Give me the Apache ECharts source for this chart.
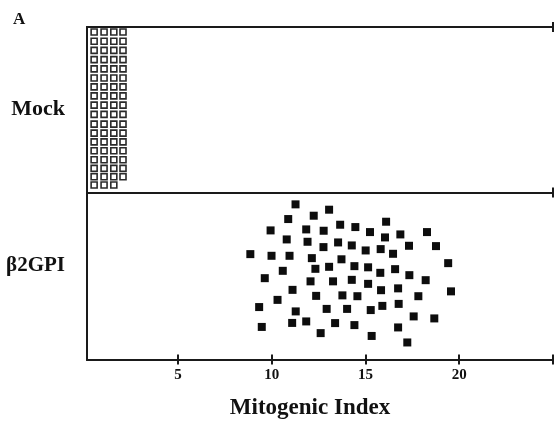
<!DOCTYPE html>
<html>
<head>
<meta charset="utf-8">
<script src="https://cdn.jsdelivr.net/npm/echarts@6/dist/echarts.min.js"></script>
<style>
html,body{margin:0;padding:0;background:#fff;}
#chart{width:554px;height:421px;}
</style>
</head>
<body>
<div id="chart"></div>
<script>
// ---- Data ----
var panelLabels = ['Mock', '\u03b22GPI'];
var xTicks = [5, 10, 15, 20, 25];
var xTickLabels = [5, 10, 15, 20];
var xName = 'Mitogenic Index';
var panelTitle = 'A';

// Mock: stacked columns of hollow squares
var mockColumnX = [0.53, 1.06, 1.58, 2.07];
var mockRowY = [0.45, 0.95, 1.46, 1.98, 2.52, 3.06, 3.59, 4.13, 4.72, 5.28, 5.84, 6.38, 6.92, 7.47, 8.03, 8.59, 9.14, 9.70];
var mockRowsPerColumn = [18, 18, 18, 17]; // last column lacks the bottom row

// beta2GPI: scattered filled squares
var b2X = [11.27,10.88,12.24,13.06,9.94,11.84,12.77,13.65,14.46,16.10,15.24,16.86,18.28,10.80,11.91,12.76,13.54,14.27,16.04,17.32,18.76,8.86,9.99,10.95,12.14,13.72,15.01,15.81,16.47,19.41,10.59,12.33,13.06,14.41,15.14,15.79,16.58,17.34,9.63,12.07,13.27,14.27,15.14,18.21,11.11,15.83,16.74,19.56,10.31,12.37,13.77,14.57,17.82,9.33,11.28,12.93,14.02,15.28,15.90,16.77,17.57,18.67,9.47,11.09,11.84,13.38,14.41,16.74,12.61,15.33,17.23];
var b2Y = [9.29,8.41,8.61,8.97,7.73,7.79,7.71,8.07,7.93,8.25,7.63,7.49,7.63,7.19,7.05,6.73,7.01,6.83,7.31,6.81,6.79,6.31,6.21,6.21,6.07,6.00,6.53,6.61,6.33,5.77,5.31,5.43,5.55,5.59,5.52,5.19,5.41,5.05,4.87,4.68,4.68,4.77,4.53,4.75,4.17,4.15,4.26,4.08,3.57,3.81,3.84,3.79,3.79,3.14,2.88,3.03,3.03,2.96,3.21,3.33,2.58,2.46,1.95,2.19,2.28,2.18,2.06,1.92,1.58,1.41,1.02];

// ---- Build ----
var mockData = [];
mockColumnX.forEach(function (x, ci) {
  var n = mockRowsPerColumn[ci];
  for (var r = mockRowY.length - n; r < mockRowY.length; r++) {
    mockData.push([x, mockRowY[r]]);
  }
});
var b2Data = b2X.map(function (x, i) { return [x, b2Y[i]]; });

var FONT = "'Liberation Serif', 'Times New Roman', serif";
var LINE = { show: true, onZero: false, lineStyle: { color: '#1a1a1a', width: 2 } };
var XMIN = 0.15, XMAX = 25;

function xAx(grid, pos, ticks, inside, extra) {
  var a = {
    type: 'value', gridIndex: grid, position: pos, min: XMIN, max: XMAX,
    axisLine: LINE,
    axisTick: { show: true, inside: inside, length: 5, customValues: ticks, lineStyle: { color: '#1a1a1a', width: 2 } },
    axisLabel: { show: false },
    splitLine: { show: false }
  };
  for (var k in extra) a[k] = extra[k];
  return a;
}

var chart = echarts.init(document.getElementById('chart'), null, { renderer: 'canvas' });
chart.setOption({
  animation: false,
  backgroundColor: '#fff',
  title: {
    text: panelTitle, left: 8, top: 6,
    textStyle: { fontFamily: FONT, fontSize: 17, fontWeight: 'bold', color: '#111' }
  },
  grid: [
    { left: 87, right: 1, top: 27, height: 165.5 },
    { left: 87, right: 1, top: 192.5, height: 167 }
  ],
  xAxis: [
    xAx(0, 'top', [25], false, {}),
    xAx(0, 'top', [25], true, {}),
    xAx(1, 'top', [25], false, {}),
    xAx(1, 'top', [25], true, {}),
    xAx(1, 'bottom', xTicks, false, {
      axisLabel: { show: true, customValues: xTickLabels, margin: 8, fontFamily: FONT, fontSize: 15, fontWeight: 'bold', color: '#111' },
      name: xName, nameLocation: 'middle', nameGap: 37,
      nameTextStyle: { fontFamily: FONT, fontSize: 23, fontWeight: 'bold', color: '#111', padding: [0, 20, 0, 0] }
    }),
    xAx(1, 'bottom', xTicks, true, {})
  ],
  yAxis: [
    {
      type: 'value', gridIndex: 0, min: 0, max: 10,
      axisLine: LINE, axisTick: { show: false }, axisLabel: { show: false }, splitLine: { show: false },
      name: panelLabels[0], nameLocation: 'middle', nameRotate: 0, nameGap: 22,
      nameTextStyle: { fontFamily: FONT, fontSize: 22, fontWeight: 'bold', color: '#111', padding: [0, 0, 4, 0] }
    },
    {
      type: 'value', gridIndex: 1, min: 0, max: 10,
      axisLine: LINE, axisTick: { show: false }, axisLabel: { show: false }, splitLine: { show: false },
      name: panelLabels[1], nameLocation: 'middle', nameRotate: 0, nameGap: 22,
      nameTextStyle: { fontFamily: FONT, fontSize: 21, fontWeight: 'bold', color: '#111', verticalAlign: 'bottom' }
    }
  ],
  series: [
    {
      name: panelLabels[0], type: 'scatter', xAxisIndex: 0, yAxisIndex: 0,
      symbol: 'rect', symbolSize: 6,
      itemStyle: { color: '#fff', borderColor: '#2a2a2a', borderWidth: 1.6, opacity: 1 },
      data: mockData
    },
    {
      name: panelLabels[1], type: 'scatter', xAxisIndex: 4, yAxisIndex: 1,
      symbol: 'rect', symbolSize: 8,
      itemStyle: { color: '#0d0d0d', opacity: 1 },
      data: b2Data
    }
  ]
});
</script>
</body>
</html>
